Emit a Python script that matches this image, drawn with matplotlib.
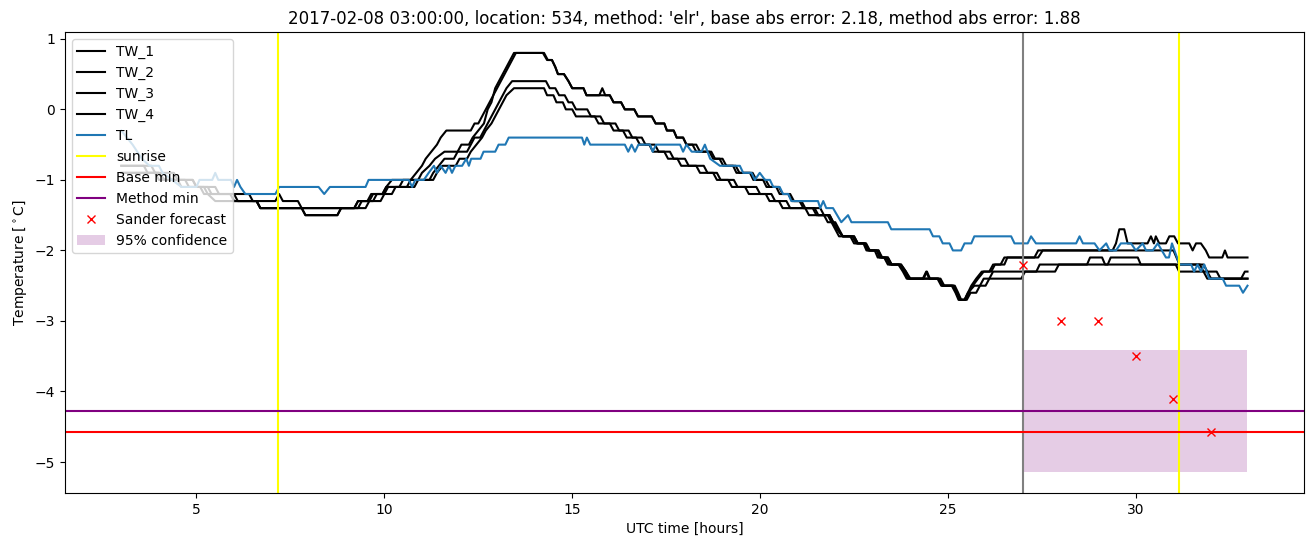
import matplotlib
matplotlib.use("Agg")
import matplotlib.pyplot as plt

# polyline vertices (hour, degC)
tw_1 = [(3.0, -0.8), (3.6, -0.8), (3.7, -0.9), (4.0, -0.9), (4.15, -1.0), (4.5, -1.0), (4.6, -1.1),
        (5.1, -1.1), (5.2, -1.2), (6.4, -1.2), (6.5, -1.3), (7.1, -1.3), (7.2, -1.2), (7.3, -1.3),
        (7.7, -1.3), (7.8, -1.4), (9.2, -1.4), (9.3, -1.3), (9.55, -1.3), (9.65, -1.2), (9.95, -1.2),
        (10.05, -1.1), (10.2, -1.0), (10.7, -1.0), (10.85, -0.9), (11.0, -0.8), (11.1, -0.7),
        (11.25, -0.6), (11.4, -0.5), (11.5, -0.4), (11.65, -0.3), (12.3, -0.3), (12.4, -0.2),
        (12.5, -0.2), (12.6, -0.1), (12.7, 0.0), (12.8, 0.1), (12.9, 0.2), (13.0, 0.3), (13.1, 0.4),
        (13.2, 0.5), (13.3, 0.6), (13.4, 0.7), (13.5, 0.8), (14.22, 0.8), (14.33, 0.7), (14.46, 0.7),
        (14.55, 0.6), (14.62, 0.5), (14.78, 0.5), (14.9, 0.4), (15.0, 0.3), (15.3, 0.3), (15.38, 0.2),
        (15.72, 0.2), (15.8, 0.3), (15.88, 0.2), (16.0, 0.2), (16.1, 0.1), (16.3, 0.1), (16.4, 0.0),
        (16.65, 0.0), (16.75, -0.1), (17.12, -0.1), (17.22, -0.2), (17.45, -0.2), (17.52, -0.3),
        (17.7, -0.3), (17.78, -0.4), (17.95, -0.4), (18.04, -0.5), (18.3, -0.5), (18.4, -0.6),
        (18.65, -0.6), (18.75, -0.7), (18.92, -0.7), (19.02, -0.8), (19.28, -0.8), (19.37, -0.9),
        (19.73, -0.9), (19.82, -1.0), (20.08, -1.0), (20.17, -1.1), (20.43, -1.1), (20.52, -1.2),
        (20.75, -1.2), (20.85, -1.3), (21.05, -1.3), (21.15, -1.4), (21.45, -1.4), (21.55, -1.5),
        (21.85, -1.5), (21.94, -1.6), (22.05, -1.7), (22.2, -1.8), (22.45, -1.8), (22.56, -1.9),
        (22.78, -1.9), (22.87, -2.0), (23.1, -2.0), (23.18, -2.1), (23.35, -2.1), (23.45, -2.2),
        (23.71, -2.2), (23.84, -2.3), (23.93, -2.4), (24.33, -2.4), (24.42, -2.3), (24.5, -2.4),
        (24.72, -2.4), (24.82, -2.5), (25.13, -2.5), (25.22, -2.6), (25.3, -2.7), (25.44, -2.7),
        (25.53, -2.6), (25.62, -2.5), (25.75, -2.4), (25.9, -2.3), (26.1, -2.3), (26.2, -2.2),
        (26.4, -2.2), (26.5, -2.1), (27.3, -2.1), (27.4, -2.0), (29.38, -2.0), (29.47, -1.9),
        (29.56, -1.7), (29.69, -1.7), (29.78, -1.9), (30.31, -1.9), (30.4, -1.8), (30.48, -1.9),
        (30.53, -1.8), (30.62, -1.9), (30.8, -1.9), (30.89, -1.8), (31.02, -1.8), (31.12, -1.9),
        (31.42, -1.9), (31.51, -2.0), (31.6, -1.9), (31.73, -1.9), (31.86, -2.0), (31.95, -2.1),
        (32.3, -2.1), (32.37, -2.0), (32.44, -2.1), (32.97, -2.1)]

tw_2 = [(3.0, -0.8), (3.8, -0.8), (3.9, -0.9), (4.4, -0.9), (4.5, -1.0), (4.9, -1.0), (5.0, -1.1),
        (5.3, -1.1), (5.4, -1.2), (5.9, -1.2), (6.0, -1.3), (6.6, -1.3), (6.7, -1.4), (7.8, -1.4),
        (7.9, -1.5), (8.75, -1.5), (8.85, -1.4), (9.3, -1.4), (9.4, -1.3), (9.7, -1.3), (9.8, -1.2),
        (10.0, -1.2), (10.1, -1.1), (10.4, -1.1), (10.5, -1.0), (10.9, -1.0), (11.0, -0.9),
        (11.2, -0.8), (11.35, -0.7), (11.6, -0.6), (11.95, -0.6), (12.05, -0.5), (12.25, -0.5),
        (12.35, -0.4), (12.5, -0.3), (12.65, -0.2), (12.75, 0.0), (12.85, 0.1), (12.95, 0.3),
        (13.05, 0.4), (13.15, 0.5), (13.25, 0.6), (13.35, 0.7), (13.45, 0.8), (14.25, 0.8),
        (14.35, 0.7), (14.46, 0.7), (14.55, 0.6), (14.62, 0.5), (14.78, 0.5), (14.9, 0.4),
        (15.0, 0.3), (15.3, 0.3), (15.38, 0.2), (16.0, 0.2), (16.1, 0.1), (16.3, 0.1), (16.4, 0.0),
        (16.65, 0.0), (16.75, -0.1), (17.12, -0.1), (17.22, -0.2), (17.45, -0.2), (17.52, -0.3),
        (17.7, -0.3), (17.78, -0.4), (17.95, -0.4), (18.04, -0.5), (18.2, -0.5), (18.3, -0.6),
        (18.7, -0.6), (18.8, -0.7), (19.0, -0.7), (19.1, -0.8), (19.35, -0.8), (19.45, -0.9),
        (19.8, -0.9), (19.9, -1.0), (20.15, -1.0), (20.25, -1.1), (20.5, -1.1), (20.6, -1.2),
        (20.8, -1.2), (20.9, -1.3), (21.1, -1.3), (21.2, -1.4), (21.6, -1.4), (21.7, -1.5),
        (21.85, -1.5), (21.95, -1.6), (22.05, -1.7), (22.2, -1.8), (22.5, -1.8), (22.6, -1.9),
        (22.8, -1.9), (22.9, -2.0), (23.15, -2.0), (23.22, -2.1), (23.4, -2.1), (23.5, -2.2),
        (23.75, -2.2), (23.88, -2.3), (23.97, -2.4), (24.35, -2.4), (24.44, -2.3), (24.52, -2.4),
        (24.75, -2.4), (24.85, -2.5), (25.15, -2.5), (25.25, -2.6), (25.33, -2.7), (25.46, -2.7),
        (25.55, -2.6), (25.66, -2.5), (25.8, -2.4), (25.95, -2.3), (26.15, -2.3), (26.25, -2.2),
        (26.5, -2.2), (26.58, -2.1), (27.4, -2.1), (27.52, -2.0), (31.0, -2.0), (31.16, -2.2),
        (31.8, -2.2), (31.9, -2.3), (32.0, -2.4), (32.97, -2.4)]

tw_3 = [(3.0, -0.9), (3.9, -0.9), (4.0, -1.0), (4.7, -1.0), (4.8, -1.1), (5.5, -1.1), (5.6, -1.2),
        (6.0, -1.2), (6.1, -1.3), (6.6, -1.3), (6.7, -1.4), (9.2, -1.4), (9.3, -1.3), (9.6, -1.3),
        (9.7, -1.2), (9.95, -1.2), (10.05, -1.1), (10.6, -1.1), (10.7, -1.0), (11.2, -1.0),
        (11.3, -0.9), (11.45, -0.8), (11.6, -0.7), (11.85, -0.7), (11.95, -0.6), (12.2, -0.6),
        (12.3, -0.5), (12.4, -0.4), (12.55, -0.4), (12.65, -0.3), (12.75, -0.2), (12.85, -0.1),
        (12.95, 0.0), (13.05, 0.1), (13.15, 0.2), (13.25, 0.3), (13.4, 0.4), (14.3, 0.4),
        (14.4, 0.3), (14.55, 0.3), (14.65, 0.2), (14.8, 0.2), (14.9, 0.1), (15.0, 0.1), (15.1, 0.0),
        (15.4, 0.0), (15.5, -0.1), (15.75, -0.1), (15.85, -0.2), (16.15, -0.2), (16.25, -0.3),
        (16.5, -0.3), (16.6, -0.4), (16.85, -0.4), (16.95, -0.5), (17.2, -0.5), (17.3, -0.6),
        (17.6, -0.6), (17.7, -0.7), (18.0, -0.7), (18.1, -0.8), (18.5, -0.8), (18.6, -0.9),
        (18.85, -0.9), (18.95, -1.0), (19.3, -1.0), (19.4, -1.1), (19.9, -1.1), (20.0, -1.2),
        (20.3, -1.2), (20.4, -1.3), (20.7, -1.3), (20.8, -1.4), (21.4, -1.4), (21.5, -1.5),
        (21.8, -1.5), (21.9, -1.6), (22.0, -1.7), (22.1, -1.8), (22.4, -1.8), (22.5, -1.9),
        (22.75, -1.9), (22.83, -2.0), (23.05, -2.0), (23.13, -2.1), (23.3, -2.1), (23.4, -2.2),
        (23.68, -2.2), (23.8, -2.3), (23.9, -2.4), (24.75, -2.4), (24.85, -2.5), (25.1, -2.5),
        (25.2, -2.6), (25.28, -2.7), (25.44, -2.7), (25.53, -2.6), (25.7, -2.5), (25.85, -2.5),
        (25.95, -2.4), (26.1, -2.4), (26.2, -2.3), (27.35, -2.3), (27.44, -2.2), (28.7, -2.2),
        (28.78, -2.1), (29.1, -2.1), (29.18, -2.2), (29.25, -2.2), (29.33, -2.1), (30.05, -2.1),
        (30.13, -2.2), (31.06, -2.2), (31.15, -2.3), (32.15, -2.3), (32.25, -2.4), (32.97, -2.4)]

tw_4 = [(3.0, -0.9), (4.0, -0.9), (4.1, -1.0), (4.9, -1.0), (5.0, -1.1), (5.2, -1.1), (5.3, -1.2),
        (5.5, -1.3), (6.6, -1.3), (6.7, -1.4), (7.8, -1.4), (7.9, -1.5), (8.75, -1.5), (8.85, -1.4),
        (9.5, -1.4), (9.6, -1.3), (9.9, -1.3), (10.0, -1.2), (10.2, -1.2), (10.3, -1.1), (10.8, -1.1),
        (10.9, -1.0), (11.3, -1.0), (11.4, -0.9), (11.55, -0.8), (11.9, -0.8), (12.0, -0.7),
        (12.2, -0.7), (12.3, -0.6), (12.45, -0.5), (12.6, -0.4), (12.7, -0.3), (12.85, -0.2),
        (12.95, -0.1), (13.05, 0.0), (13.15, 0.1), (13.25, 0.2), (13.45, 0.3), (14.25, 0.3),
        (14.33, 0.2), (14.5, 0.2), (14.58, 0.1), (14.75, 0.1), (14.83, 0.0), (15.0, 0.0),
        (15.1, -0.1), (15.6, -0.1), (15.7, -0.2), (16.0, -0.2), (16.1, -0.3), (16.35, -0.3),
        (16.45, -0.4), (16.7, -0.4), (16.8, -0.5), (17.05, -0.5), (17.15, -0.6), (17.45, -0.6),
        (17.55, -0.7), (17.8, -0.7), (17.9, -0.8), (18.3, -0.8), (18.4, -0.9), (18.75, -0.9),
        (18.85, -1.0), (19.15, -1.0), (19.25, -1.1), (19.6, -1.1), (19.7, -1.2), (20.15, -1.2),
        (20.25, -1.3), (20.5, -1.3), (20.6, -1.4), (21.2, -1.4), (21.3, -1.5), (21.7, -1.5),
        (21.8, -1.6), (22.0, -1.6), (22.1, -1.7), (22.2, -1.8), (22.5, -1.8), (22.6, -1.9),
        (22.82, -1.9), (22.92, -2.0), (23.15, -2.0), (23.25, -2.1), (23.4, -2.1), (23.5, -2.2),
        (23.75, -2.2), (23.88, -2.3), (24.0, -2.4), (24.8, -2.4), (24.9, -2.5), (25.18, -2.5),
        (25.27, -2.6), (25.35, -2.7), (25.5, -2.7), (25.6, -2.6), (25.75, -2.6), (25.85, -2.5),
        (26.0, -2.5), (26.1, -2.4), (26.95, -2.4), (27.05, -2.3), (27.85, -2.3), (27.95, -2.2),
        (31.7, -2.2), (31.8, -2.3), (31.9, -2.4), (32.8, -2.4), (32.9, -2.3), (32.97, -2.3)]

tl = [(3.0, -0.3), (3.3, -0.5), (3.55, -0.7), (3.75, -0.8), (4.0, -0.8), (4.1, -0.9), (4.35, -1.0),
      (4.6, -1.1), (5.0, -1.1), (5.08, -1.0), (5.42, -1.0), (5.5, -0.9), (5.58, -1.0), (5.92, -1.0),
      (6.0, -1.1), (6.08, -1.0), (6.17, -1.1), (6.3, -1.2), (7.1, -1.2), (7.2, -1.1), (8.25, -1.1),
      (8.4, -1.2), (8.55, -1.1), (9.5, -1.1), (9.58, -1.0), (10.65, -1.0), (10.74, -1.1),
      (10.82, -1.0), (11.05, -1.0), (11.18, -0.9), (11.32, -0.8), (11.4, -0.9), (11.5, -0.8),
      (11.63, -0.9), (11.72, -0.8), (11.8, -0.9), (11.89, -0.8), (12.07, -0.8), (12.18, -0.7),
      (12.25, -0.8), (12.31, -0.7), (12.56, -0.7), (12.64, -0.6), (12.95, -0.6), (13.04, -0.5),
      (13.22, -0.5), (13.31, -0.4), (15.26, -0.4), (15.32, -0.5), (15.39, -0.4), (15.48, -0.5),
      (16.4, -0.5), (16.49, -0.6), (16.58, -0.5), (16.67, -0.6), (16.76, -0.5), (17.07, -0.5),
      (17.14, -0.6), (17.23, -0.5), (17.87, -0.5), (17.95, -0.6), (18.04, -0.5), (18.18, -0.6),
      (18.44, -0.6), (18.53, -0.5), (18.67, -0.7), (18.93, -0.8), (19.46, -0.8), (19.55, -0.9),
      (19.77, -0.9), (19.86, -1.0), (19.99, -0.9), (20.13, -1.0), (20.26, -1.0), (20.35, -1.1),
      (20.52, -1.1), (20.61, -1.2), (20.75, -1.2), (20.83, -1.3), (21.54, -1.3), (21.6, -1.4),
      (21.68, -1.3), (21.76, -1.4), (21.94, -1.4), (22.05, -1.5), (22.16, -1.6), (22.34, -1.5),
      (22.43, -1.6), (23.4, -1.6), (23.49, -1.7), (24.51, -1.7), (24.6, -1.8), (24.77, -1.8),
      (24.86, -1.9), (25.04, -1.9), (25.13, -2.0), (25.35, -2.0), (25.44, -1.9), (25.62, -1.9),
      (25.7, -1.8), (26.68, -1.8), (26.77, -1.9), (27.12, -1.9), (27.21, -1.8), (27.34, -1.9),
      (28.41, -1.9), (28.5, -1.8), (28.59, -1.9), (28.9, -1.9), (29.03, -2.0), (29.21, -1.9),
      (29.3, -2.0), (29.47, -2.0), (29.6, -1.9), (29.87, -1.9), (30.0, -2.0), (30.18, -1.9),
      (30.27, -2.0), (30.45, -2.0), (30.58, -1.9), (30.8, -2.1), (30.88, -2.1), (30.96, -1.9),
      (31.16, -2.2), (31.47, -2.2), (31.55, -2.3), (31.64, -2.2), (31.73, -2.3), (31.82, -2.2),
      (31.95, -2.4), (32.31, -2.4), (32.4, -2.5), (32.75, -2.5), (32.85, -2.6), (32.97, -2.5)]

sunrise = [7.18, 31.15]
forecast_time = 27.0
sander_hours = [27, 28, 29, 30, 31, 32]
sander_temp = [-2.2, -3.0, -3.0, -3.5, -4.1, -4.58]
base_min = -4.58
method_min = -4.28
conf_low, conf_high = -5.14, -3.41
conf_span = [27.0, 32.97]

title = ("2017-02-08 03:00:00, location: 534, method: 'elr', "
         "base abs error: 2.18, method abs error: 1.88")

fig, ax = plt.subplots(figsize=(13.13, 5.47), dpi=100)
fig.subplots_adjust(left=0.0495, right=0.993, top=0.9415, bottom=0.099)

for name, series in [("TW_1", tw_1), ("TW_2", tw_2), ("TW_3", tw_3), ("TW_4", tw_4)]:
    ax.plot([p[0] for p in series], [p[1] for p in series], color="black", label=name)
ax.plot([p[0] for p in tl], [p[1] for p in tl], color="C0", label="TL")

ax.axvline(forecast_time, color="grey")
ax.axvline(sunrise[0], color="yellow", label="sunrise")
ax.axvline(sunrise[1], color="yellow")
ax.axhline(base_min, color="red", label="Base min")
ax.axhline(method_min, color="purple", label="Method min")
ax.plot(sander_hours, sander_temp, "rx", label="Sander forecast")
ax.fill_between(conf_span, conf_low, conf_high, color="purple", alpha=0.2,
                linewidth=0, label="95% confidence")

ax.set_title(title)
ax.set_xlabel("UTC time [hours]")
ax.set_ylabel(r"Temperature [$^\circ$C]")
ax.legend(loc="upper left")

fig.savefig("out.png")
